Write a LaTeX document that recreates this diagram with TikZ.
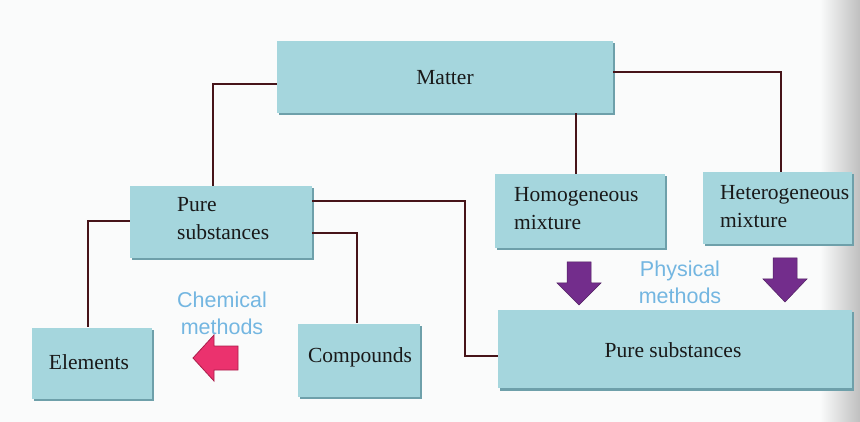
\documentclass[tikz,border=0pt]{standalone}
\usepackage{fontspec}
\setmainfont{Liberation Serif}
\newfontfamily\labfont{Liberation Sans}
\usetikzlibrary{shadows}
\definecolor{boxfill}{RGB}{165,214,221}
\definecolor{boxshade}{RGB}{110,160,170}
\definecolor{linecol}{RGB}{70,20,25}
\definecolor{methcol}{RGB}{115,182,225}
\definecolor{pinkarr}{RGB}{235,50,110}
\definecolor{pinkedge}{RGB}{170,30,75}
\definecolor{purparr}{RGB}{115,45,140}
\definecolor{pagecol}{RGB}{250,251,251}
\begin{document}
\begin{tikzpicture}[x=1pt,y=-1pt,
  box/.style={fill=boxfill, draw=none, inner sep=0pt,
    drop shadow={shadow xshift=2pt, shadow yshift=-2.5pt, fill=boxshade, opacity=1}},
  boxtext/.style={font=\fontsize{21.5}{28}\selectfont, text=black!90, inner sep=0pt},
  methtext/.style={font=\labfont\fontsize{21.5}{27}\selectfont, text=methcol, align=center, inner sep=0pt},
  conn/.style={draw=linecol, line width=1.8pt},
  parrow/.style={fill=purparr, draw=purparr!70!black, line width=0.5pt},
  karrow/.style={fill=pinkarr, draw=pinkedge, line width=0.8pt}]
\useasboundingbox (0,0) rectangle (860,422);
\fill[pagecol] (0,0) rectangle (860,422);
\shade[left color=pagecol, right color=black!25] (820,0) rectangle (860,422);

% boxes
\node[box, minimum width=336, minimum height=72] (matter) at (445,77) {};
\node[boxtext] (mattert) at (445,78) {Matter};

\node[box, minimum width=182, minimum height=72] (pure) at (221,222) {};
\node[boxtext, anchor=west, align=left] (puret) at (177,219) {Pure\\substances};

\node[box, minimum width=170, minimum height=74] (homo) at (580,211) {};
\node[boxtext, anchor=west, align=left] (homot) at (514,209) {Homogeneous\\mixture};

\node[box, minimum width=149, minimum height=72] (hetero) at (777,208) {};
\node[boxtext, anchor=west, align=left] (heterot) at (720,207) {Heterogeneous\\mixture};

\node[box, minimum width=120, minimum height=71] (elem) at (92,363) {};
\node[boxtext] (elemt) at (89,362) {Elements};

\node[box, minimum width=122, minimum height=73] (comp) at (359,360) {};
\node[boxtext] (compt) at (360,357) {Compounds};

\node[box, minimum width=354, minimum height=78] (pure2) at (675,349) {};
\node[boxtext] (pure2t) at (673,350) {Pure substances};

% connectors
\coordinate (c1) at (213,84);
\draw[conn] (matter.west |- c1) -| (pure.north -| c1);
\draw[conn] (matter.south -| 576,0) -- (homo.north -| 576,0);
\coordinate (c2) at (781,72);
\draw[conn] (matter.east |- c2) -| (hetero.north -| c2);
\coordinate (c3) at (88,221);
\draw[conn] (pure.west |- c3) -| (elem.north -| c3);
\coordinate (c4) at (465,201);
\draw[conn] (pure.east |- c4) -| (465,356) -- (pure2.west |- 0,356);
\coordinate (c5) at (357,233);
\draw[conn] (pure.east |- c5) -| (comp.north -| c5);

% method labels
\node[methtext] (chem) at (222,313) {Chemical\\methods};
\node[methtext] (phys) at (680,282) {Physical\\methods};

% arrows
\draw[karrow] (193,358) -- (214,335) -- (214,346) -- (238,346) -- (238,370) -- (214,370) -- (214,381) -- cycle;
\draw[parrow] (567,262) -- (591,262) -- (591,283) -- (601,283) -- (579,305) -- (557,283) -- (567,283) -- cycle;
\draw[parrow] (773,258) -- (797,258) -- (797,279) -- (807,279) -- (785,302) -- (763,279) -- (773,279) -- cycle;
\end{tikzpicture}
\end{document}
